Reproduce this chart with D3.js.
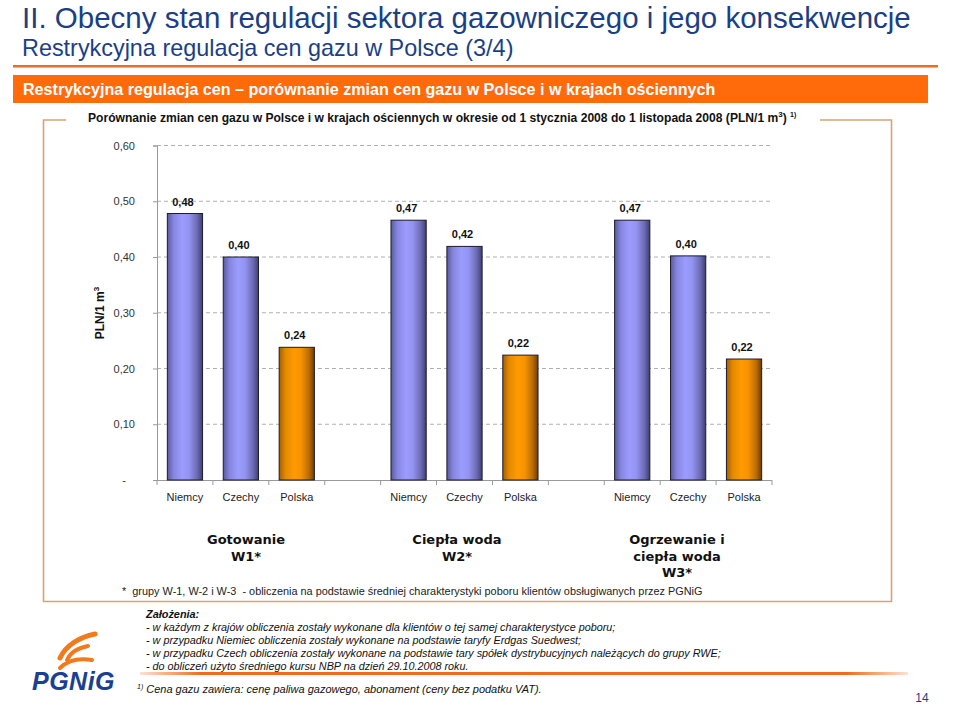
<!DOCTYPE html>
<html><head><meta charset="utf-8">
<script src="https://cdn.jsdelivr.net/npm/d3@7"></script>
<style>
html,body{margin:0;padding:0;background:#fff;}
svg{display:block;font-family:"Liberation Sans",Arial,sans-serif;}
</style></head>
<body>
<svg id="c" width="960" height="715"></svg>
<script>
// ---- data ----
const countries = ["Niemcy", "Czechy", "Polska"];
const groupNames = [["Gotowanie", "W1*"], ["Ciepła woda", "W2*"], ["Ogrzewanie i", "ciepła woda", "W3*"]];
const niemcy = [0.478, 0.466, 0.466];
const czechy = [0.400, 0.419, 0.402];
const polska = [0.238, 0.224, 0.217];
const yTicks = [0, 0.1, 0.2, 0.3, 0.4, 0.5, 0.6];
const yTickLabels = ["-", "0,10", "0,20", "0,30", "0,40", "0,50", "0,60"];
const assumptions = [
  "- w każdym z krajów obliczenia zostały wykonane dla klientów o tej samej charakterystyce poboru;",
  "- w przypadku Niemiec obliczenia zostały wykonane na podstawie taryfy Erdgas Suedwest;",
  "- w przypadku Czech obliczenia zostały wykonane na podstawie tary spółek dystrybucyjnych należących do grupy RWE;",
  "- do obliczeń użyto średniego kursu NBP na dzień 29.10.2008 roku."
];

const svg = d3.select("#c");
const defs = svg.append("defs");
function grad(id, stops) {
  const g = defs.append("linearGradient").attr("id", id).attr("x1", 0).attr("x2", 1).attr("y1", 0).attr("y2", 0);
  stops.forEach(s => g.append("stop").attr("offset", s[0]).attr("stop-color", s[1]));
}
grad("gBlue", [["0%", "#5a5a9e"], ["18%", "#8686e0"], ["42%", "#9c9cff"], ["62%", "#9393f2"], ["85%", "#6a6ab2"], ["100%", "#3e3e72"]]);
grad("gOrange", [["0%", "#a55e00"], ["18%", "#e48a00"], ["42%", "#ff9a00"], ["62%", "#f89300"], ["85%", "#b96b00"], ["100%", "#6a3c00"]]);
const lg = defs.append("linearGradient").attr("id", "gLine").attr("x1", 0).attr("x2", 1);
lg.append("stop").attr("offset", "0%").attr("stop-color", "#f26b1d").attr("stop-opacity", 0.2);
lg.append("stop").attr("offset", "8%").attr("stop-color", "#f26b1d").attr("stop-opacity", 1);
lg.append("stop").attr("offset", "92%").attr("stop-color", "#f26b1d").attr("stop-opacity", 1);
lg.append("stop").attr("offset", "100%").attr("stop-color", "#f26b1d").attr("stop-opacity", 0.2);

// ---- header ----
const blue = "#1b3f86";
svg.append("text").attr("x", 22).attr("y", 28).attr("font-size", 29.5).attr("fill", blue)
  .text("II. Obecny stan regulacji sektora gazowniczego i jego konsekwencje");
svg.append("text").attr("x", 22).attr("y", 56).attr("font-size", 23.4).attr("fill", blue)
  .text("Restrykcyjna regulacja cen gazu w Polsce (3/4)");
svg.append("rect").attr("x", 13).attr("y", 65).attr("width", 925).attr("height", 2.5).attr("fill", "#f26b1d");
svg.append("rect").attr("x", 13).attr("y", 75).attr("width", 915).attr("height", 28).attr("fill", "#ff6a0a");
svg.append("text").attr("x", 23).attr("y", 95).attr("font-size", 16.1).attr("font-weight", "bold").attr("fill", "#fff")
  .text("Restrykcyjna regulacja cen – porównanie zmian cen gazu w Polsce i w krajach ościennych");

// ---- box ----
svg.append("path").attr("d", "M66,120 H43.5 V601.5 H891.5 V120 H820")
  .attr("fill", "none").attr("stroke", "#d9a274").attr("stroke-width", 1.6);
const sub = svg.append("text").attr("x", 88).attr("y", 121.5).attr("font-size", 12.1).attr("font-weight", "bold").attr("fill", "#111");
sub.append("tspan").text("Porównanie zmian cen gazu w Polsce i w krajach ościennych w okresie od 1 stycznia 2008 do 1 listopada 2008 (PLN/1 m");
sub.append("tspan").attr("font-size", 8).attr("dy", -5).text("3");
sub.append("tspan").attr("dy", 5).text(") ");
sub.append("tspan").attr("font-size", 7).attr("dy", -5).text("1)");

// ---- chart ----
const slots = [];
for (let g = 0; g < 3; g++) {
  const vals = [niemcy[g], czechy[g], polska[g]];
  countries.forEach((c, i) => slots.push({ slot: g * 4 + i, country: c, value: vals[i], pl: c === "Polska" }));
}
const x = d3.scaleBand().domain(d3.range(11)).range([157, 772]).paddingInner(0.37).paddingOuter(0.185);
const y = d3.scaleLinear().domain([0, 0.6]).range([480, 145.5]);
const step = x.step();

// gridlines
svg.append("g").selectAll("line").data(yTicks.filter(t => t > 0)).join("line")
  .attr("x1", 157).attr("x2", 772).attr("y1", d => y(d)).attr("y2", d => y(d))
  .attr("stroke", "#b0b0b0").attr("stroke-dasharray", "4,3").attr("stroke-width", 1);

// y axis
const yAxis = d3.axisLeft(y).tickValues(yTicks).tickSize(4).tickPadding(18)
  .tickFormat((d, i) => yTickLabels[i]);
const ya = svg.append("g").attr("transform", "translate(157,0)").call(yAxis);
ya.select(".domain").attr("stroke", "#999");
ya.selectAll(".tick line").attr("stroke", "#999");
ya.selectAll(".tick text").attr("font-size", 11).attr("fill", "#333").attr("font-family", "Liberation Sans, Arial, sans-serif");
ya.selectAll(".tick text").filter(d => d === 0).attr("dx", -9);

// x axis
svg.append("line").attr("x1", 157).attr("x2", 772).attr("y1", 480.5).attr("y2", 480.5).attr("stroke", "#999");
svg.append("g").selectAll("line").data(d3.range(12)).join("line")
  .attr("x1", d => 157 + d * step).attr("x2", d => 157 + d * step)
  .attr("y1", 480).attr("y2", 485).attr("stroke", "#999");
svg.append("g").selectAll("text").data(slots).join("text")
  .attr("x", d => x(d.slot) + x.bandwidth() / 2).attr("y", 501)
  .attr("text-anchor", "middle").attr("font-size", 11).attr("fill", "#222")
  .text(d => d.country);

// bars
svg.append("g").selectAll("rect").data(slots).join("rect")
  .attr("x", d => x(d.slot)).attr("width", x.bandwidth())
  .attr("y", d => y(d.value)).attr("height", d => y(0) - y(d.value))
  .attr("fill", d => d.pl ? "url(#gOrange)" : "url(#gBlue)")
  .attr("stroke", "#1c1c2c").attr("stroke-width", 1);

// value labels
const fmt = d3.format(".2f");
svg.append("g").selectAll("text").data(slots).join("text")
  .attr("x", d => x(d.slot) + x.bandwidth() / 2 - 2).attr("y", d => y(d.value) - 8)
  .attr("text-anchor", "middle").attr("font-size", 11).attr("font-weight", "bold").attr("fill", "#111")
  .text(d => fmt(d.value).replace(".", ","));

// y title
const yt = svg.append("text").attr("transform", "translate(104,313) rotate(-90)")
  .attr("text-anchor", "middle").attr("font-size", 12).attr("font-weight", "bold").attr("fill", "#111");
yt.append("tspan").text("PLN/1 m");
yt.append("tspan").attr("font-size", 8).attr("dy", -5).text("3");

// group labels
const groupX = [246, 457, 677];
groupNames.forEach((lines, g) => {
  const t = svg.append("text").attr("text-anchor", "middle").attr("font-family", "DejaVu Sans, Verdana, sans-serif")
    .attr("font-size", 13).attr("font-weight", "bold").attr("fill", "#111");
  lines.forEach((l, i) => t.append("tspan").attr("x", groupX[g]).attr("y", 544 + i * 16.5).text(l));
});

svg.append("text").attr("x", 122).attr("y", 595).attr("font-size", 10.9).attr("fill", "#222").attr("xml:space", "preserve")
  .text("*  grupy W-1, W-2 i W-3  - obliczenia na podstawie średniej charakterystyki poboru klientów obsługiwanych przez PGNiG");

// ---- assumptions ----
svg.append("text").attr("x", 146).attr("y", 618).attr("font-size", 10.9).attr("font-style", "italic").attr("font-weight", "bold").attr("fill", "#111")
  .text("Założenia:");
svg.append("g").selectAll("text").data(assumptions).join("text")
  .attr("x", 146).attr("y", (d, i) => 631 + i * 13).attr("font-size", 10.8).attr("font-style", "italic").attr("fill", "#111")
  .text(d => d);
svg.append("rect").attr("x", 140).attr("y", 672).attr("width", 768).attr("height", 3).attr("fill", "url(#gLine)");
const fn = svg.append("text").attr("x", 137).attr("y", 693).attr("font-size", 11).attr("font-style", "italic").attr("fill", "#111");
fn.append("tspan").attr("font-size", 7).attr("dy", -4).text("1)");
fn.append("tspan").attr("dy", 4).attr("dx", 3).text("Cena gazu zawiera: cenę paliwa gazowego, abonament (ceny bez podatku VAT).");
svg.append("text").attr("x", 922).attr("y", 702).attr("text-anchor", "middle").attr("font-size", 12).attr("fill", blue).text("14");

// ---- logo ----
const logo = svg.append("g").attr("fill", "none").attr("stroke", "#f07a1c").attr("stroke-linecap", "round");
logo.append("path").attr("d", "M95,634 C80,637 66,645 60,658").attr("stroke-width", 5);
logo.append("path").attr("d", "M88,646 C78,648 70,653 67,660").attr("stroke-width", 4);
logo.append("path").attr("d", "M92,660 C80,658 68,660 60,668").attr("stroke-width", 4);
svg.append("text").attr("x", 32).attr("y", 690).attr("font-size", 25).attr("font-weight", "bold").attr("font-style", "italic")
  .attr("fill", "#1b3f93").attr("letter-spacing", 0.5).text("PGNiG");
</script>
</body></html>
